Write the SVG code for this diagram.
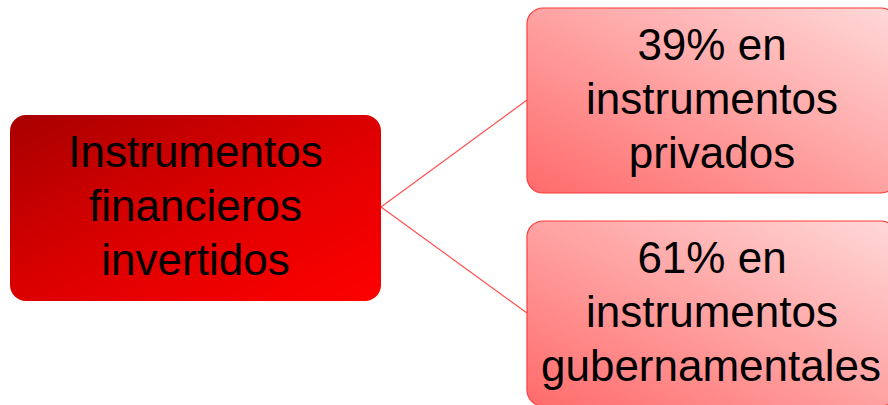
<svg xmlns="http://www.w3.org/2000/svg" width="888" height="405" viewBox="0 0 888 405">
<defs>
<linearGradient id="gMain" x1="0" y1="0" x2="1" y2="1">
<stop offset="0" stop-color="#a80000"/>
<stop offset="0.5" stop-color="#dc0000"/>
<stop offset="1" stop-color="#ff0000"/>
</linearGradient>
<linearGradient id="gLeaf" x1="0" y1="1" x2="1" y2="0">
<stop offset="0" stop-color="#ff6b6b"/>
<stop offset="1" stop-color="#ffd9d9"/>
</linearGradient>
<style>
text{font-family:"Liberation Sans",Arial,sans-serif;font-size:44px;fill:#000;text-anchor:middle}
.leaf{fill:url(#gLeaf);stroke:#ff3c3c;stroke-width:1.2}
.conn{stroke:#ff5050;stroke-width:1.2;fill:none}
</style>
</defs>
<g id="connectors">
<line class="conn" x1="381" y1="207" x2="527" y2="100"/>
<line class="conn" x1="381" y1="207" x2="527" y2="313"/>
</g>
<g id="root">
<rect x="10" y="115" width="371" height="186" rx="16" fill="url(#gMain)"/>
<text x="195.5" y="167">Instrumentos</text>
<text x="195.5" y="221">financieros</text>
<text x="195.5" y="275">invertidos</text>
</g>
<g id="privados">
<rect class="leaf" x="527" y="8" width="370" height="185" rx="16"/>
<text x="712" y="60">39% en</text>
<text x="712" y="114">instrumentos</text>
<text x="712" y="168">privados</text>
</g>
<g id="gubernamentales">
<rect class="leaf" x="527" y="221" width="370" height="185" rx="16"/>
<text x="712" y="273">61% en</text>
<text x="712" y="327">instrumentos</text>
<text x="711" y="381">gubernamentales</text>
</g>
</svg>
